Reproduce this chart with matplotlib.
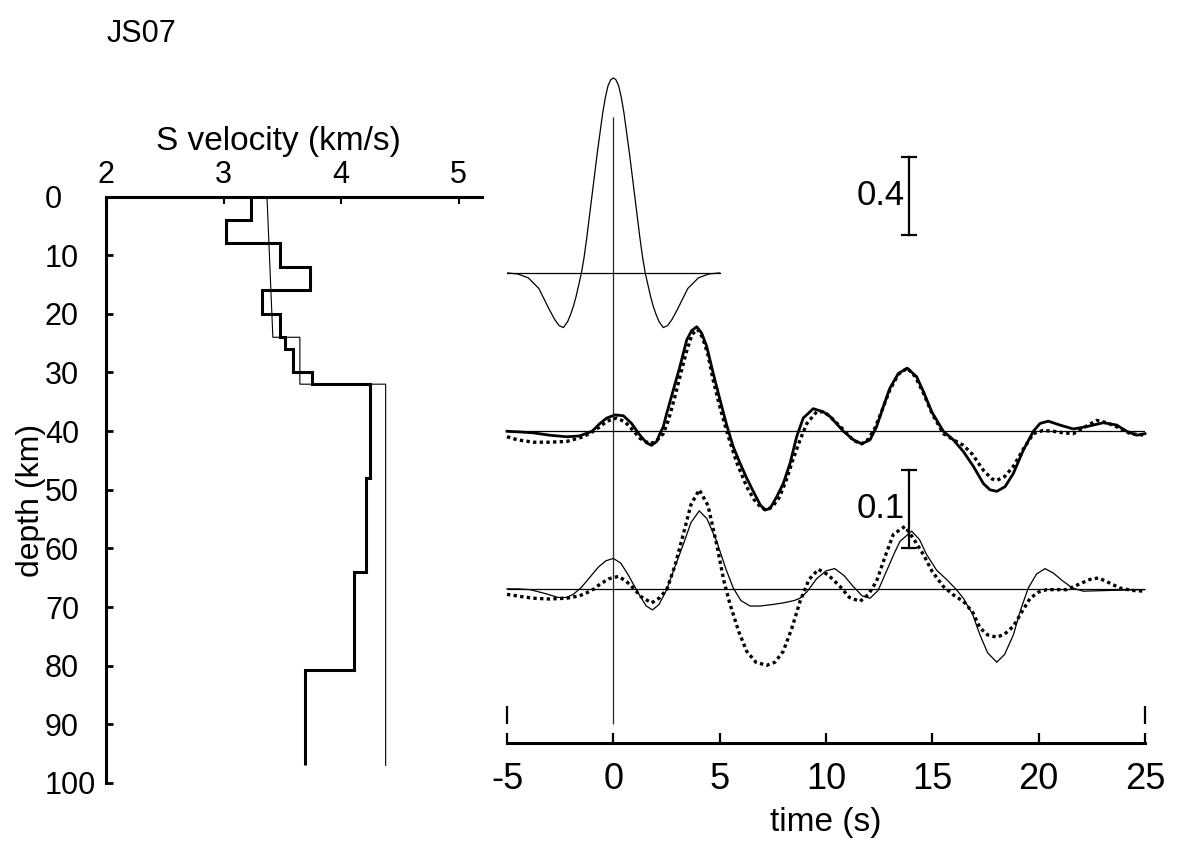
import numpy as np
import matplotlib.pyplot as plt

plt.rcParams['font.family'] = ['Liberation Sans', 'DejaVu Sans']

# --- S-velocity profiles (km/s) against depth (km)
inv_edges = [0, 4, 8, 12, 16, 20, 24, 26, 30, 32, 48, 64, 80.7, 97]
inv_vs = [3.23, 3.02, 3.48, 3.74, 3.33, 3.48, 3.52, 3.59, 3.75, 4.25, 4.21, 4.11, 3.69]
ini_depth = [0, 24, 24, 32, 32, 97]
ini_vs = [3.37, 3.42, 3.65, 3.65, 4.38, 4.38]

# --- source wavelet (normalised amplitude)
wav_t = [-5, -4.5, -4, -3.5, -3, -2.75, -2.55, -2.35, -2.15, -2, -1.875, -1.75, -1.625, -1.5, -1.375,
         -1.25, -1.125, -1, -0.875, -0.75, -0.625, -0.5, -0.375, -0.25, -0.125, 0,
         0.125, 0.25, 0.375, 0.5, 0.625, 0.75, 0.875, 1, 1.125, 1.25, 1.375, 1.5, 1.625, 1.75, 1.875,
         2, 2.15, 2.35, 2.55, 2.75, 3, 3.5, 4, 4.5, 5]
wav_a = [0, -0.005, -0.025, -0.08, -0.19, -0.24, -0.27, -0.28, -0.25, -0.21, -0.17, -0.12, -0.06, 0.0, 0.08,
         0.18, 0.29, 0.40, 0.51, 0.62, 0.72, 0.82, 0.90, 0.96, 0.99, 1.0,
         0.99, 0.96, 0.90, 0.82, 0.72, 0.62, 0.51, 0.40, 0.29, 0.18, 0.08, 0.0, -0.06, -0.12, -0.17,
         -0.21, -0.25, -0.28, -0.27, -0.24, -0.19, -0.08, -0.025, -0.005, 0]

# --- upper pair: observed (solid) and synthetic (dotted)
obs1_t = [-5, -4.3, -3.76, -3.0, -2.19, -1.6, -1.0, -0.63, -0.31, 0.08, 0.47, 0.86, 1.25, 1.57, 1.8, 2.04,
          2.19, 2.35, 2.51, 2.82, 3.13, 3.45, 3.68, 3.92, 4.15, 4.39, 4.7, 5.02, 5.33, 5.64, 5.96, 6.27,
          6.58, 6.9, 7.13, 7.37, 7.68, 7.99, 8.31, 8.62, 8.93, 9.4, 9.87, 10.19, 10.82, 11.29, 11.68,
          12.07, 12.38, 12.7, 13.0, 13.4, 13.82, 14.26, 14.58, 14.97, 15.52, 15.99, 16.46, 16.93, 17.4,
          17.71, 18.03, 18.42, 18.81, 19.28, 19.75, 20.06, 20.45, 21.0, 21.63, 22.26, 23.04, 23.67, 24.14,
          24.61, 25]
obs1_a = [0.0, -0.001, -0.002, -0.005, -0.007, -0.006, 0.0, 0.010, 0.017, 0.021, 0.020, 0.010, -0.005,
          -0.015, -0.018, -0.013, -0.003, 0.006, 0.023, 0.053, 0.083, 0.117, 0.129, 0.134, 0.126, 0.109,
          0.074, 0.040, 0.008, -0.020, -0.041, -0.060, -0.077, -0.094, -0.101, -0.099, -0.084, -0.067,
          -0.041, -0.007, 0.017, 0.029, 0.025, 0.019, 0.0, -0.011, -0.016, -0.011, 0.006, 0.032, 0.055,
          0.074, 0.081, 0.070, 0.051, 0.025, 0.0, -0.011, -0.026, -0.045, -0.067, -0.075, -0.077, -0.071,
          -0.054, -0.024, 0.0, 0.010, 0.013, 0.008, 0.003, 0.006, 0.011, 0.008, 0.0, -0.005, -0.003]
syn1_t = [-5, -4.5, -3.76, -3.0, -2.19, -1.41, -1.0, -0.63, -0.3, 0.16, 0.55, 0.9, 1.25, 1.72, 2.0, 2.35,
          2.6, 2.9, 3.13, 3.45, 3.7, 3.95, 4.2, 4.45, 4.7, 5.02, 5.41, 5.8, 6.27, 6.6, 6.95, 7.21, 7.5, 7.8,
          8.1, 8.45, 8.78, 9.1, 9.56, 9.9, 10.19, 10.82, 11.3, 11.68, 12.0, 12.3, 12.65, 13.0, 13.4, 13.82,
          14.2, 14.58, 15.0, 15.52, 16.0, 16.46, 16.9, 17.4, 17.8, 18.03, 18.4, 18.81, 19.3, 19.75, 20.2,
          20.69, 21.2, 21.63, 22.2, 22.73, 23.2, 23.82, 24.3, 25]
syn1_a = [-0.007, -0.011, -0.014, -0.014, -0.013, -0.007, -0.001, 0.006, 0.013, 0.017, 0.012, 0.002,
          -0.009, -0.016, -0.013, -0.003, 0.015, 0.045, 0.070, 0.103, 0.124, 0.131, 0.120, 0.098, 0.065,
          0.030, -0.007, -0.040, -0.071, -0.087, -0.098, -0.101, -0.096, -0.085, -0.065, -0.036, -0.011,
          0.010, 0.025, 0.025, 0.019, 0.002, -0.012, -0.016, -0.010, 0.004, 0.028, 0.053, 0.073, 0.081,
          0.070, 0.049, 0.022, -0.003, -0.011, -0.018, -0.030, -0.050, -0.061, -0.063, -0.058, -0.045,
          -0.022, -0.003, 0.001, 0.0, -0.002, -0.003, 0.006, 0.014, 0.011, 0.004, -0.003, -0.005]

# --- lower pair
obs2_t = [-5, -4.5, -3.92, -3.2, -2.6, -2.2, -1.88, -1.5, -1.1, -0.7, -0.35, 0, 0.35, 0.7, 0.94, 1.25,
          1.55, 1.84, 2.15, 2.51, 2.85, 3.29, 3.65, 4.04, 4.4, 4.86, 5.3, 5.64, 6.0, 6.43, 6.9, 7.5, 7.99,
          8.5, 8.78, 9.1, 9.56, 10.0, 10.41, 10.85, 11.28, 11.7, 12.07, 12.45, 12.85, 13.2, 13.48, 14.03,
          14.4, 14.73, 15.2, 15.67, 16.1, 16.46, 16.9, 17.24, 17.6, 18.03, 18.4, 18.81, 19.15, 19.51,
          19.9, 20.3, 20.7, 21.14, 21.6, 22.1, 23.35, 25]
obs2_a = [0.0, 0.0, -0.001, -0.006, -0.011, -0.011, -0.007, 0.002, 0.015, 0.028, 0.036, 0.039, 0.033,
          0.018, 0.006, -0.009, -0.022, -0.027, -0.020, -0.001, 0.025, 0.057, 0.085, 0.100, 0.090, 0.061,
          0.025, 0.001, -0.015, -0.022, -0.022, -0.020, -0.018, -0.015, -0.012, -0.004, 0.013, 0.023,
          0.026, 0.017, 0.003, -0.009, -0.012, -0.002, 0.023, 0.045, 0.061, 0.074, 0.063, 0.044, 0.024,
          0.012, 0.0, -0.012, -0.033, -0.059, -0.082, -0.094, -0.084, -0.059, -0.027, 0.001, 0.019,
          0.026, 0.020, 0.010, 0.001, -0.003, -0.002, -0.001]
syn2_t = [-5, -4.3, -3.76, -3.0, -2.19, -1.6, -1.25, -0.9, -0.63, -0.2, 0.24, 0.6, 0.94, 1.3, 1.8, 2.15,
          2.51, 2.9, 3.29, 3.65, 4.04, 4.45, 4.86, 5.2, 5.49, 5.9, 6.27, 6.7, 7.21, 7.6, 7.99, 8.4, 8.78,
          9.2, 9.64, 10.1, 10.66, 11.1, 11.6, 12.0, 12.38, 12.8, 13.17, 13.71, 14.1, 14.58, 15.0, 15.52,
          16.0, 16.46, 16.9, 17.24, 17.6, 18.03, 18.4, 18.81, 19.2, 19.6, 20.0, 20.38, 21.32, 21.9, 22.4,
          22.81, 23.3, 23.82, 24.4, 25]
syn2_a = [-0.007, -0.010, -0.012, -0.013, -0.012, -0.009, -0.005, 0.0, 0.006, 0.013, 0.016, 0.010, 0.001,
          -0.010, -0.018, -0.012, -0.001, 0.030, 0.070, 0.108, 0.127, 0.107, 0.057, 0.010, -0.020, -0.055,
          -0.080, -0.094, -0.098, -0.094, -0.080, -0.050, -0.016, 0.012, 0.025, 0.018, 0.003, -0.011,
          -0.016, -0.007, 0.010, 0.043, 0.070, 0.080, 0.065, 0.044, 0.022, 0.003, -0.008, -0.016, -0.030,
          -0.050, -0.059, -0.062, -0.058, -0.048, -0.030, -0.012, -0.004, -0.001, -0.001, 0.006, 0.012,
          0.014, 0.008, 0.001, -0.002, -0.003]

time_ticks = [-5, 0, 5, 10, 15, 20, 25]
depth_ticks = list(range(0, 101, 10))
vel_ticks = [2, 3, 4, 5]

fig = plt.figure(figsize=(11.8, 8.48), dpi=100)

# ---------------- left: velocity profile
ax1 = fig.add_axes([106 / 1180, 65 / 848, 376 / 1180, 586.5 / 848])
ax1.stairs(inv_vs, inv_edges, orientation='horizontal', baseline=None, color='k', lw=2.2)
ax1.plot(ini_vs, ini_depth, color='k', lw=0.8)
ax1.set_xlim(2, 5.2)
ax1.set_ylim(100, 0)
ax1.xaxis.tick_top()
ax1.set_xticks(vel_ticks)
ax1.set_yticks(depth_ticks)
for s in ['right', 'bottom']:
    ax1.spines[s].set_visible(False)
for s in ['top', 'left']:
    ax1.spines[s].set_linewidth(2.2)
ax1.tick_params(axis='x', direction='in', length=5, width=1.5, pad=5, labelsize=22)
ax1.tick_params(axis='y', direction='in', length=5, width=2, pad=44, labelsize=22)
for lab in ax1.get_yticklabels():
    lab.set_horizontalalignment('left')
fig.text(278 / 1180, 1 - 150 / 848, 'S velocity (km/s)', ha='center', va='baseline', fontsize=24)
fig.text(31 / 1180, 1 - 500 / 848, 'depth (km)', ha='center', va='center', rotation=90, fontsize=23)
fig.text(107 / 1180, 1 - 42 / 848, 'JS07', ha='left', va='baseline', fontsize=22)

# ---------------- right: wavelet and traces
ax2 = fig.add_axes([507 / 1180, 105 / 848, 638 / 1180, 683 / 848])
ax2.set_xlim(-5, 25)
ax2.set_ylim(-0.6026, 0.273)

bar_ratio = 0.1 / 0.4          # wavelet drawn against the 0.4 scale bar
off_wav, off_1, off_2 = 0.0, -0.203, -0.405

ax2.plot(wav_t, np.array(wav_a) * bar_ratio + off_wav, color='k', lw=0.9)
ax2.plot([-5, 5], [off_wav, off_wav], color='k', lw=0.9)

ax2.hlines([off_1, off_2], -5, 25, color='k', lw=0.9)
ax2.plot(obs1_t, np.array(obs1_a) + off_1, color='k', lw=2.0, clip_on=False)
ax2.plot(syn1_t, np.array(syn1_a) + off_1, color='k', lw=2.4, ls=(0, (1, 1)), clip_on=False)
ax2.plot(obs2_t, np.array(obs2_a) + off_2, color='k', lw=0.9, clip_on=False)
ax2.plot(syn2_t, np.array(syn2_a) + off_2, color='k', lw=2.4, ls=(0, (1, 1)), clip_on=False)

ax2.vlines(0, -0.578, 0.2, color='0.15', lw=0.9)
ax2.vlines([-5, 25], -0.578, -0.555, color='k', lw=1.6, clip_on=False)

# scale bars
for y0, lab in [(0.0487, '0.4'), (-0.3526, '0.1')]:
    ax2.plot([13.9, 13.9], [y0, y0 + 0.1], color='k', lw=1.6, marker='_', ms=12, mew=1.6)
    ax2.text(13.72, y0 + 0.05, lab, ha='right', va='center', fontsize=25)

for s in ['top', 'left', 'right']:
    ax2.spines[s].set_visible(False)
ax2.spines['bottom'].set_linewidth(2.2)
ax2.set_yticks([])
ax2.set_xticks(time_ticks)
ax2.set_xticklabels([str(t) for t in time_ticks])
ax2.tick_params(axis='x', direction='in', length=7, width=1.6, pad=14, labelsize=26)
fig.text(826 / 1180, 1 - 822 / 848, 'time (s)', ha='center', va='center', fontsize=24)

fig.savefig('out.png', dpi=100)
